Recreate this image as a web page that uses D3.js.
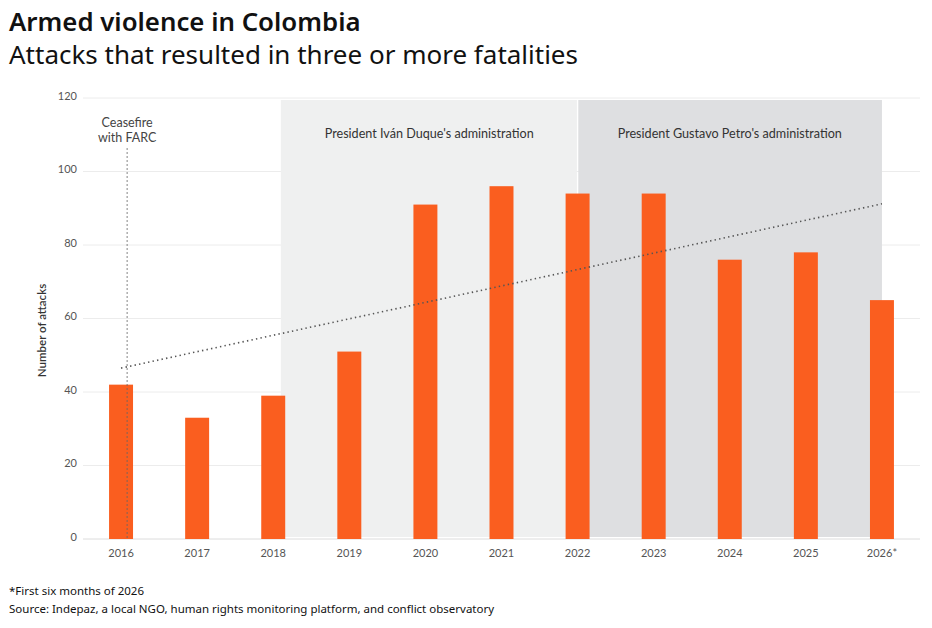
<!DOCTYPE html>
<html>
<head>
<meta charset="utf-8">
<script src="https://cdn.jsdelivr.net/npm/d3@7"></script>
<style>
  body { margin: 0; background: #fff; font-family: Lato, "Noto Sans", sans-serif; }
</style>
</head>
<body>
<script>
var years = ["2016","2017","2018","2019","2020","2021","2022","2023","2024","2025","2026*"];
var attacks = [42, 33, 39, 51, 91, 96, 94, 94, 76, 78, 65];
var yTicks = [0, 20, 40, 60, 80, 100, 120];

// administrations, as positions in years from 2016
var adminNames = ["President Iván Duque's administration", "President Gustavo Petro's administration"];
var adminStart = [2.1, 6];
var adminEnd = [6, 10];

// dotted trend line
var trendYears = [0, 10];
var trendValues = [46.5, 91.2];

var ceasefireAt = 0.08;

var totalWidth = 932, totalHeight = 628;
var margin = {top: 98, left: 83, bottom: 89, right: 12};
var width = totalWidth - margin.left - margin.right;
var height = totalHeight - margin.top - margin.bottom;

var svg = d3.select("body").append("svg")
  .attr("width", totalWidth)
  .attr("height", totalHeight);

var wide = "'Noto Sans', 'Open Sans', sans-serif";

svg.append("text").attr("x", 9).attr("y", 31)
  .attr("font-family", wide)
  .attr("font-size", 25.8).attr("font-weight", 600).attr("fill", "#111")
  .text("Armed violence in Colombia");
svg.append("text").attr("x", 9).attr("y", 64)
  .attr("font-family", wide)
  .attr("font-size", 26).attr("fill", "#111")
  .text("Attacks that resulted in three or more fatalities");

var g = svg.append("g")
  .attr("transform", "translate(" + margin.left + "," + margin.top + ")");

var x = d3.scaleBand().domain(years).range([0, width]).paddingInner(0.685).paddingOuter(0.3425);
var y = d3.scaleLinear().domain([0, 120]).range([height, 0]);
// position in years -> pixel centre
var xl = d3.scaleLinear().domain([0, 10])
  .range([x(years[0]) + x.bandwidth() / 2, x(years[10]) + x.bandwidth() / 2]);

// gridlines
g.selectAll(".grid").data(yTicks).enter().append("line")
  .attr("x1", 0).attr("x2", width)
  .attr("y1", function(d) { return y(d); }).attr("y2", function(d) { return y(d); })
  .attr("stroke", function(d) { return d == 0 ? "#dcdcdc" : "#ececec"; })
  .attr("stroke-width", 1);

// admin bands
var bandColors = ["#eff0f0", "#dedfe1"];
g.selectAll(".admin").data(adminNames).enter().append("rect")
  .attr("x", function(d, i) { return xl(adminStart[i]) + (i == 1 ? 0.7 : 0); })
  .attr("width", function(d, i) { return xl(adminEnd[i]) - xl(adminStart[i]) - 0.7; })
  .attr("y", y(120) + 2)
  .attr("height", y(0) - y(120) - 4)
  .attr("fill", function(d, i) { return bandColors[i]; });

g.selectAll(".adminLabel").data(adminNames).enter().append("text")
  .attr("x", function(d, i) { return (xl(adminStart[i]) + xl(adminEnd[i])) / 2; })
  .attr("y", 40)
  .attr("text-anchor", "middle")
  .attr("font-size", 12.6).attr("fill", "#333")
  .text(function(d) { return d; });

// bars
g.selectAll(".bar").data(attacks).enter().append("rect")
  .attr("x", function(d, i) { return x(years[i]); })
  .attr("width", x.bandwidth())
  .attr("y", function(d) { return y(d); })
  .attr("height", function(d) { return height - y(d); })
  .attr("fill", "#fa5e1f");

// ceasefire marker
g.append("line")
  .attr("x1", xl(ceasefireAt)).attr("x2", xl(ceasefireAt))
  .attr("y1", 50).attr("y2", height - 1)
  .attr("stroke", "#666").attr("stroke-width", 0.8)
  .attr("stroke-dasharray", "2,2");
var cf = g.append("text")
  .attr("text-anchor", "middle").attr("font-size", 12.5).attr("fill", "#444");
cf.append("tspan").attr("x", xl(ceasefireAt)).attr("y", 29).text("Ceasefire");
cf.append("tspan").attr("x", xl(ceasefireAt)).attr("y", 44).text("with FARC");

// trend
g.append("line")
  .attr("x1", xl(trendYears[0])).attr("y1", y(trendValues[0]))
  .attr("x2", xl(trendYears[1])).attr("y2", y(trendValues[1]))
  .attr("stroke", "#555").attr("stroke-width", 1.6)
  .attr("stroke-dasharray", "1.4,3.2");

// axes
var yAxis = g.append("g").call(d3.axisLeft(y).tickValues(yTicks).tickSize(0).tickPadding(6));
yAxis.select(".domain").remove();
yAxis.selectAll("text").attr("font-size", 11).attr("fill", "#555")
  .attr("font-family", "Lato, 'Noto Sans', sans-serif").attr("dy", "0.1em");

var xAxis = g.append("g").attr("transform", "translate(0," + height + ")")
  .call(d3.axisBottom(x).tickSize(0).tickPadding(10));
xAxis.select(".domain").remove();
xAxis.selectAll("text").attr("font-size", 11).attr("fill", "#555")
  .attr("font-family", "Lato, 'Noto Sans', sans-serif");

g.append("text")
  .attr("transform", "translate(-37," + (y(60) + 12) + ") rotate(-90)")
  .attr("text-anchor", "middle").attr("font-size", 11.5).attr("font-weight", 600)
  .attr("fill", "#333")
  .text("Number of attacks");

// notes
svg.append("text").attr("x", 9).attr("y", 595)
  .attr("font-family", wide)
  .attr("font-size", 11.5).attr("fill", "#111")
  .text("*First six months of 2026");
svg.append("text").attr("x", 9).attr("y", 613)
  .attr("font-family", wide)
  .attr("font-size", 11.5).attr("fill", "#111")
  .text("Source: Indepaz, a local NGO, human rights monitoring platform, and conflict observatory");
</script>
</body>
</html>
